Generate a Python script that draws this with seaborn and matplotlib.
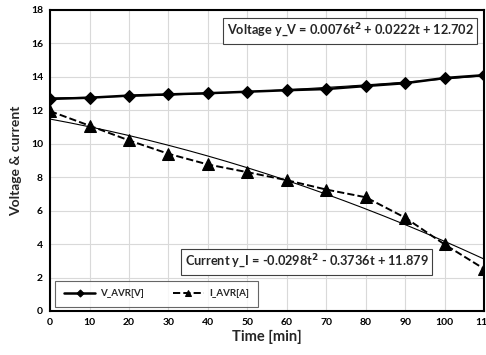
import numpy as np
import pandas as pd
import matplotlib
matplotlib.use("Agg")
import matplotlib.pyplot as plt
import seaborn as sns

# Data
time_min = [0, 10, 20, 30, 40, 50, 60, 70, 80, 90, 100, 110]
v_avr = [12.68, 12.75, 12.88, 12.95, 13.02, 13.11, 13.2, 13.27, 13.45, 13.62, 13.93, 14.1]
i_avr = [11.95, 11.08, 10.2, 9.4, 8.76, 8.3, 7.82, 7.26, 6.8, 5.58, 3.98, 2.52]

# quadratic trend coefficients as printed (t = point index 1..n)
v_coef = [0.0076, 0.0222, 12.702]
i_coef = [-0.0298, -0.3736, 11.879]

df = pd.DataFrame({"time": time_min, "V_AVR[V]": v_avr, "I_AVR[A]": i_avr})

sns.set_theme(style="whitegrid")
plt.rcParams['font.family'] = ['Lato', 'DejaVu Sans']
plt.rcParams['mathtext.default'] = 'bf'

fig = plt.figure(figsize=(4.86, 3.55), dpi=100)
ax = fig.add_axes([0.103, 0.124, 0.893, 0.848])

# trend lines
t_idx = np.linspace(1, len(time_min), 200)
t_min = (t_idx - 1) * 10
ax.plot(t_min, np.polyval(v_coef, t_idx), color='black', lw=0.8, zorder=2)
ax.plot(t_min, np.polyval(i_coef, t_idx), color='black', lw=0.8, zorder=2)

sns.lineplot(data=df, x="time", y="V_AVR[V]", ax=ax, color='black', lw=1.8,
             marker='D', markersize=6, markeredgecolor='black', label="V_AVR[V]", zorder=3)
sns.lineplot(data=df, x="time", y="I_AVR[A]", ax=ax, color='black', lw=1.4,
             linestyle='--', marker='^', markersize=8, markeredgecolor='black',
             label="I_AVR[A]", zorder=3)

ax.set_xlim(0, 110)
ax.set_ylim(0, 18)
ax.set_xticks(range(0, 111, 10))
ax.set_yticks(range(0, 19, 2))
ax.grid(True, color='#d9d9d9', lw=0.8)
for s in ax.spines.values():
    s.set_color('black')
    s.set_linewidth(1.5)
ax.tick_params(axis='both', length=0, pad=5, labelsize=7.5, colors='black')
for lab in ax.get_xticklabels() + ax.get_yticklabels():
    lab.set_fontweight('bold')

ax.set_xlabel("Time [min]", fontsize=10.5, fontweight='bold', labelpad=2)
ax.set_ylabel("Voltage & current", fontsize=10, fontweight='bold', labelpad=6)

box = dict(boxstyle='square,pad=0.3', facecolor='white', edgecolor='#404040', lw=0.8)
ax.text(0.976, 0.930, "Voltage y_V = 0.0076t$^{2}$ + 0.0222t + 12.702",
        transform=ax.transAxes, ha='right', va='center', fontsize=9.2,
        fontweight='bold', bbox=box, zorder=5)
ax.text(0.872, 0.163, "Current y_I = -0.0298t$^{2}$ - 0.3736t + 11.879",
        transform=ax.transAxes, ha='right', va='center', fontsize=9.2,
        fontweight='bold', bbox=box, zorder=5)

leg = ax.legend(loc='lower left', bbox_to_anchor=(0.012, 0.013), ncol=2, fontsize=7,
                frameon=True, fancybox=False, edgecolor='#404040', handlelength=3.2,
                columnspacing=3.0, borderpad=0.9, markerscale=0.6, handletextpad=0.5,
                borderaxespad=0)
leg.get_frame().set_linewidth(0.8)
leg.set_zorder(6)
for t in leg.get_texts():
    t.set_fontweight('bold')

fig.savefig("out.png", dpi=100, facecolor='white')
